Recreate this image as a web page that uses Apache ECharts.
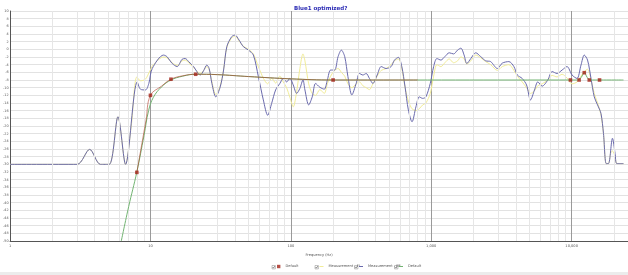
<!DOCTYPE html>
<html>
<head>
<meta charset="utf-8">
<title>Blue1 optimized?</title>
<script src="https://cdn.jsdelivr.net/npm/echarts@6/dist/echarts.min.js"></script>
<style>
    html, body { margin: 0; padding: 0; background: #fff; }
    #main { width: 628px; height: 275px; }
</style>
</head>
<body>
<div id="main"></div>
<script>
// Measurement - FR (blue), Hz / dB
var frFreq = [1, 3.0, 3.69, 4.4, 5.09, 5.87, 6.65, 8.05, 8.49, 9.22, 9.74, 10.3, 12.4, 13.1, 14.3, 15.5, 16.8, 17.7, 18.7, 20.3,
    21.4, 22.6, 23.9, 25.2, 26.2, 27.4, 29.2, 31.4, 33.2, 35, 37.9, 40.1, 42.8, 45.9, 49.9, 54.1, 58.7, 63.7, 68.4, 73,
    77.9, 83.5, 88.3, 93.3, 98.4, 104, 110, 116, 122, 126, 134, 142, 150, 161, 173, 182, 192, 205, 217, 229,
    242, 255, 272, 292, 308, 326, 344, 363, 384, 412, 440, 477, 518, 547, 584, 617, 651, 687, 730, 778,
    822, 869, 916, 984, 1040, 1097, 1172, 1250, 1343, 1443, 1540, 1626, 1714, 1792, 1914, 2075, 2251, 2443, 2649, 2958,
    3207, 3573, 3880, 4102, 4446, 4774, 5095, 5438, 5741, 6166, 6761, 7261, 7870, 8551, 9270, 10070, 10920, 11660, 12300, 12980,
    13740, 14490, 15290, 16170, 16860, 17620, 18290, 19530, 20400, 20990, 23390];
var frDb = [-30, -30, -26.1, -30, -30, -17.6, -30, -8.5, -10.4, -10.6, -8.9, -5, -1.5, -1.9, -3.7, -4.5, -2.6, -2.4, -3.2, -4.5,
    -5.8, -6.7, -5.6, -4.1, -5, -8.9, -12.4, -9.8, -5.4, 0.7, 3.3, 3.7, 2.4, 0.7, -0.2, -1.5, -7.1, -13.2, -17.2, -14.1,
    -10.6, -8.9, -7.6, -8.5, -7.6, -9.3, -11.5, -10.2, -8, -10.6, -14.5, -12.4, -8.9, -9.9, -10.4, -8, -5.4, -5.4, -1.9, -0.2,
    -1.9, -7.1, -11.9, -8.9, -6.3, -6.7, -6.3, -7.6, -8.9, -6.7, -4.5, -5, -4.5, -2.8, -2.1, -4.5, -9.8, -15.8, -18.9, -15,
    -12.4, -12.8, -12.4, -8.9, -4.5, -2.4, -2.8, -1.9, -0.9, -1.2, -0.2, 0.3, -1.5, -3.7, -2.4, -0.9, -1.9, -3, -3.2, -5,
    -3.6, -3.2, -4.5, -6.7, -7.6, -9.3, -13.2, -10.6, -8.5, -9.6, -8, -5.8, -6.3, -5.4, -4.5, -6.7, -7.6, -4.1, -1.5, -2.8,
    -7.6, -12.4, -14.5, -16.7, -22, -29.8, -29.8, -23.2, -27.2, -29.8, -29.8];

// Measurement - FL (yellow)
var flFreq = [1, 3.0, 3.69, 4.4, 5.09, 5.87, 6.65, 7.3, 8.0, 8.5, 9.2, 9.8, 10.5, 12.4, 13.1, 14.3, 15.5, 16.8, 17.7, 18.7,
    20.3, 21.4, 22.6, 23.9, 25.2, 26.2, 27.4, 29.2, 31.4, 33.2, 35, 37.9, 40.1, 42.8, 45.9, 49.9, 54.1, 58.7, 63.7, 68.4,
    73, 77.9, 83.5, 88.3, 93.3, 98.4, 104, 110, 116, 122, 126, 134, 142, 150, 161, 173, 182, 192, 205, 217,
    229, 242, 255, 272, 292, 308, 326, 344, 363, 384, 412, 440, 477, 518, 547, 584, 617, 651, 687, 730,
    778, 822, 869, 916, 984, 1040, 1097, 1172, 1250, 1343, 1443, 1540, 1626, 1714, 1792, 1914, 2075, 2251, 2443, 2649,
    2958, 3207, 3573, 3880, 4102, 4446, 4774, 5095, 5438, 5741, 6166, 6761, 7261, 7870, 8551, 9270, 10070, 10920, 11660, 12300,
    12980, 13740, 14490, 15290, 16170, 16860, 17620, 18290, 19000, 19530, 20400, 20990, 23390];
var flDb = [-30, -30, -26.1, -30, -30, -17.6, -30, -20, -7.2, -8.2, -7.8, -6, -4, -2, -2.2, -3.5, -4.2, -3, -2.8, -3.5,
    -4.8, -5.6, -6.3, -5.5, -4.5, -5.3, -8.5, -11.8, -9.5, -5.2, 0.5, 3, 3.4, 2.2, 0.8, 0, -1.2, -4.5, -7.5, -9,
    -7.5, -8.8, -7, -8.5, -10, -12.5, -15, -11, -5, -1.2, -3, -9, -11.5, -12, -10.5, -11.5, -9, -7, -5.5, -5,
    -6, -7, -9, -10, -9, -8.5, -9.5, -10, -10.5, -9, -7, -5.5, -5, -4, -3, -2.5, -5, -10, -13.5, -15.5,
    -16, -15.5, -14.5, -14, -11.5, -7, -4, -4.5, -3.5, -2.5, -3.5, -3, -2, -2.5, -3.8, -3, -1.5, -2.2, -3.2, -4,
    -5.5, -4.5, -4, -5.5, -7, -8.5, -10, -11.5, -10.8, -9.5, -9, -8, -6.8, -7.2, -6.5, -7.5, -9, -8.5, -7, -5.8,
    -5.2, -8, -11.5, -14, -17, -22, -29.8, -29.8, -27, -26.5, -28, -29.8, -29.8];

// Default target (green)
var tgtFreq = [6.2, 7, 8, 9, 9.7, 10.5, 12, 14, 17, 21, 30, 50, 100, 200, 11000, 11700, 12300, 12900, 13500, 23400];
var tgtDb = [-50, -41, -32, -22.5, -16, -12.5, -9.8, -8, -7, -6.5, -6.6, -7.1, -7.7, -8, -8, -7.3, -6.1, -7.3, -8, -8];

// Default filter curve (red) and its points
var eqFreq = [8, 9.3, 10, 12, 14, 17, 21, 30, 50, 100, 200, 800];
var eqDb = [-32.1, -18.5, -12, -9.6, -7.8, -6.9, -6.5, -6.6, -7.1, -7.7, -8, -8];
var pointFreq = [8, 10, 14, 21, 200, 9800, 11300, 12300, 13350, 15800];
var pointDb = [-32.1, -12, -7.8, -6.5, -8, -8, -8, -6.1, -8, -8];

var xTickLabels = {1: '1', 10: '10', 100: '100', 1000: '1,000', 10000: '10,000'};

function zip(a, b) {
    var out = [];
    for (var i = 0; i < Math.min(a.length, b.length); i++) out.push([a[i], b[i]]);
    return out;
}

// light grid lines at 2..9 of every decade
var minorLines = [];
for (var d = 1; d <= 10000; d *= 10) {
    for (var k = 2; k <= 9; k++) {
        if (k * d < 25200) minorLines.push({xAxis: k * d});
    }
}

var tiny = {fontFamily: 'DejaVu Sans', fontSize: 3.6, color: '#555'};

function checkbox(x, y) {
    return {
        type: 'group', x: x, y: y, silent: true,
        children: [
            {type: 'rect', shape: {x: 0, y: 0, width: 3.4, height: 3.4}, style: {fill: '#fff', stroke: '#888', lineWidth: 0.5}},
            {type: 'polyline', shape: {points: [[0.7, 1.8], [1.4, 2.6], [2.8, 0.7]]}, style: {stroke: '#333', lineWidth: 0.6, fill: null}}
        ]
    };
}

var chart = echarts.init(document.getElementById('main'), null, {renderer: 'canvas'});
chart.setOption({
    animation: false,
    backgroundColor: '#fff',
    title: {
        text: 'Blue1 optimized?', left: 289, top: 1,
        textStyle: {fontFamily: 'DejaVu Sans', fontSize: 5.5, fontWeight: 'bold', color: '#2a2ab4'}
    },
    grid: {left: 7.3, right: 0, top: 11, bottom: 34},
    xAxis: {
        type: 'log', logBase: 10, min: 1, max: 25200,
        name: 'Frequency (Hz)', nameLocation: 'middle', nameGap: 7,
        nameTextStyle: {fontFamily: 'DejaVu Sans', fontSize: 3.6, color: '#555'},
        axisLine: {onZero: false, lineStyle: {color: '#555', width: 1}},
        axisTick: {show: false},
        axisLabel: {
            fontFamily: 'DejaVu Sans', fontSize: 3.6, color: '#555', margin: 3,
            showMaxLabel: false,
            formatter: function (v) { return xTickLabels[Math.round(v)] || ''; }
        },
        splitLine: {show: true, lineStyle: {color: '#9a9a9a', width: 1}}
    },
    yAxis: {
        type: 'value', min: -50, max: 10, interval: 2,
        axisLine: {show: true, onZero: false, lineStyle: {color: '#555', width: 1}},
        axisTick: {show: false},
        axisLabel: {fontFamily: 'DejaVu Sans', fontSize: 3.4, color: '#555', margin: 1.5},
        splitLine: {lineStyle: {color: '#e2e2e2', width: 1}}
    },
    legend: [
        {data: ['Default'], left: 277, top: 264.5, itemWidth: 3.4, itemHeight: 3.4, itemGap: 2,
            textStyle: tiny, padding: 0},
        {data: ['Measurement - FL'], left: 319.5, top: 264.5, itemWidth: 4, itemHeight: 1, itemGap: 2, icon: 'rect',
            textStyle: tiny, padding: 0},
        {data: ['Measurement - FR'], left: 359, top: 264.5, itemWidth: 4, itemHeight: 1, itemGap: 2, icon: 'rect',
            textStyle: tiny, padding: 0},
        {data: ['Default '], left: 399, top: 264.5, itemWidth: 4, itemHeight: 1, itemGap: 2, icon: 'rect',
            textStyle: tiny, padding: 0}
    ],
    graphic: [
        checkbox(272, 265.5), checkbox(315, 265.5), checkbox(354.5, 265.5), checkbox(394.5, 265.5),
        {type: 'rect', shape: {x: 0, y: 272, width: 628, height: 3}, style: {fill: '#ececec'}, silent: true}
    ],
    series: [
        {
            name: 'grid', type: 'line', data: [], z: 1, silent: true,
            markLine: {
                silent: true, symbol: 'none', label: {show: false},
                lineStyle: {color: '#e6e6e6', width: 1, type: 'solid'},
                data: minorLines
            }
        },
        {
            name: 'Measurement - FL', type: 'line', data: zip(flFreq, flDb), z: 3,
            showSymbol: false, smooth: 0.3, color: '#f1ec98',
            lineStyle: {width: 1, color: '#f1ec98'}
        },
        {
            name: 'Measurement - FR', type: 'line', data: zip(frFreq, frDb), z: 4,
            showSymbol: false, smooth: 0.3, color: '#6a6aad',
            lineStyle: {width: 1, color: '#6a6aad'}
        },
        {
            name: 'Default ', type: 'line', data: zip(tgtFreq, tgtDb), z: 5,
            showSymbol: false, smooth: 0.4, color: '#72b472',
            lineStyle: {width: 1, color: '#72b472'}
        },
        {
            name: 'eq', type: 'line', data: zip(eqFreq, eqDb), z: 6,
            showSymbol: false, smooth: 0.4,
            lineStyle: {width: 1, color: '#b0402c', opacity: 0.6}
        },
        {
            name: 'Default', type: 'scatter', data: zip(pointFreq, pointDb), z: 7,
            symbol: 'rect', symbolSize: 3.6, color: '#a32318',
            itemStyle: {color: '#a32318'}
        }
    ]
});
</script>
</body>
</html>
